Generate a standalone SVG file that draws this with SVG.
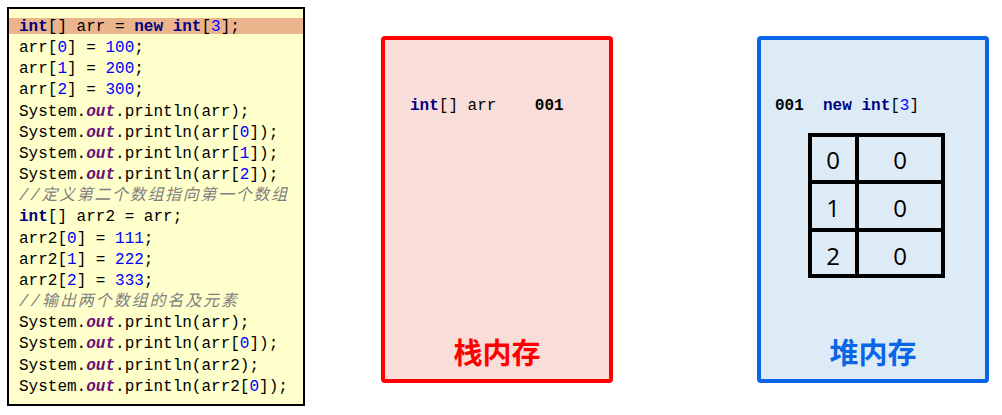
<svg xmlns="http://www.w3.org/2000/svg" width="1002" height="415" viewBox="0 0 1002 415">
<style>
text{white-space:pre}
.code{font-family:"Liberation Mono","DejaVu Sans Mono","Noto Sans CJK SC",monospace;font-size:16px;fill:#000}
.kw{fill:#000080;font-weight:bold}
.num{fill:#0000FF}
.out{fill:#660E7A;font-weight:bold;font-style:italic}
.cm{fill:#808080;font-style:italic}
.cjk{font-family:"Noto Sans CJK SC",sans-serif}
.b{font-weight:bold}
.cell{font-family:"Open Sans","Noto Sans","Liberation Sans",sans-serif;font-size:24px;fill:#000;text-anchor:middle}
.title{font-family:"Noto Sans CJK SC",sans-serif;font-size:29px;font-weight:bold;text-anchor:middle}
.grid{fill:none;stroke:#000;stroke-width:4}
</style>
<rect width="1002" height="415" fill="#fff"/>
<g id="code">
<rect x="8" y="8" width="296" height="397" fill="#FFFFCC" stroke="#000" stroke-width="2"/>
<rect x="9" y="18" width="294" height="16" fill="#EBB48C"/>
<text class="code" x="19" y="31"><tspan class="kw">int</tspan>[] arr = <tspan class="kw">new</tspan> <tspan class="kw">int</tspan>[<tspan class="num">3</tspan>];</text>
<text class="code" x="19" y="52">arr[<tspan class="num">0</tspan>] = <tspan class="num">100</tspan>;</text>
<text class="code" x="19" y="73">arr[<tspan class="num">1</tspan>] = <tspan class="num">200</tspan>;</text>
<text class="code" x="19" y="94">arr[<tspan class="num">2</tspan>] = <tspan class="num">300</tspan>;</text>
<text class="code" x="19" y="115.5">System.<tspan class="out">out</tspan>.println(arr);</text>
<text class="code" x="19" y="136.7">System.<tspan class="out">out</tspan>.println(arr[<tspan class="num">0</tspan>]);</text>
<text class="code" x="19" y="157.8">System.<tspan class="out">out</tspan>.println(arr[<tspan class="num">1</tspan>]);</text>
<text class="code" x="19" y="179">System.<tspan class="out">out</tspan>.println(arr[<tspan class="num">2</tspan>]);</text>
<text class="code cm" x="19" y="200.2" textLength="268" lengthAdjust="spacing">//<tspan class="cjk">定义第二个数组指向第一个数组</tspan></text>
<text class="code" x="19" y="221.3"><tspan class="kw">int</tspan>[] arr2 = arr;</text>
<text class="code" x="19" y="242.5">arr2[<tspan class="num">0</tspan>] = <tspan class="num">111</tspan>;</text>
<text class="code" x="19" y="263.7">arr2[<tspan class="num">1</tspan>] = <tspan class="num">222</tspan>;</text>
<text class="code" x="19" y="284.9">arr2[<tspan class="num">2</tspan>] = <tspan class="num">333</tspan>;</text>
<text class="code cm" x="19" y="306" textLength="218" lengthAdjust="spacing">//<tspan class="cjk">输出两个数组的名及元素</tspan></text>
<text class="code" x="19" y="327.2">System.<tspan class="out">out</tspan>.println(arr);</text>
<text class="code" x="19" y="348.4">System.<tspan class="out">out</tspan>.println(arr[<tspan class="num">0</tspan>]);</text>
<text class="code" x="19" y="369.5">System.<tspan class="out">out</tspan>.println(arr2);</text>
<text class="code" x="19" y="390.7">System.<tspan class="out">out</tspan>.println(arr2[<tspan class="num">0</tspan>]);</text>
</g>
<g id="stack">
<rect x="383" y="38" width="228" height="343" rx="2" fill="#F8DDD8" stroke="#FF0000" stroke-width="4"/>
<text class="code" x="410" y="110"><tspan class="kw">int</tspan>[] arr    <tspan class="b">001</tspan></text>
<text class="title" x="497" y="364" fill="#FF0000">栈内存</text>
</g>
<g id="heap">
<rect x="759" y="38" width="228" height="343" rx="2" fill="#DDEBF7" stroke="#0A66E6" stroke-width="4"/>
<text class="code" x="775" y="110"><tspan class="b">001</tspan>  <tspan class="kw">new</tspan> <tspan class="kw">int</tspan>[<tspan class="num">3</tspan>]</text>
<rect class="grid" x="810" y="135" width="133" height="141"/>
<line class="grid" x1="857" y1="135" x2="857" y2="276"/>
<line class="grid" x1="810" y1="182" x2="943" y2="182"/>
<line class="grid" x1="810" y1="230" x2="943" y2="230"/>
<text class="cell" x="833" y="169">0</text>
<text class="cell" x="900" y="169">0</text>
<text class="cell" x="833" y="217">1</text>
<text class="cell" x="900" y="217">0</text>
<text class="cell" x="833" y="265">2</text>
<text class="cell" x="900" y="265">0</text>
<text class="title" x="873" y="364" fill="#0A66E6">堆内存</text>
</g>
<g id="connectors"/>
</svg>
